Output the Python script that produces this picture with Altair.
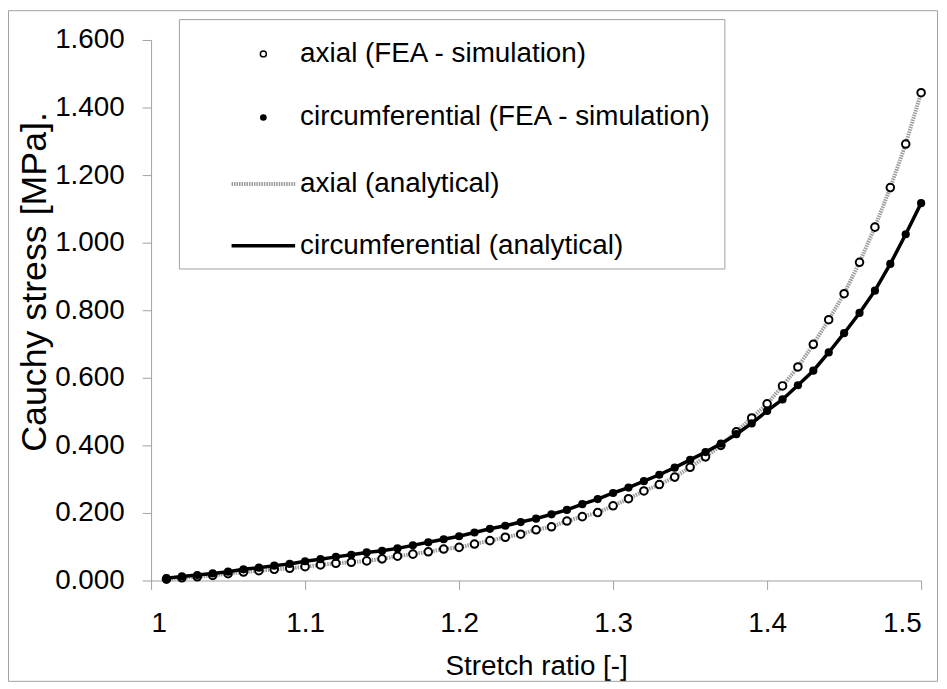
import altair as alt
import pandas as pd

stretch = [1.01, 1.02, 1.03, 1.04, 1.05, 1.06, 1.07, 1.08, 1.09, 1.10,
           1.11, 1.12, 1.13, 1.14, 1.15, 1.16, 1.17, 1.18, 1.19, 1.20,
           1.21, 1.22, 1.23, 1.24, 1.25, 1.26, 1.27, 1.28, 1.29, 1.30,
           1.31, 1.32, 1.33, 1.34, 1.35, 1.36, 1.37, 1.38, 1.39, 1.40,
           1.41, 1.42, 1.43, 1.44, 1.45, 1.46, 1.47, 1.48, 1.49, 1.50]

axial_fea = [0.004, 0.008, 0.011, 0.015, 0.020, 0.025, 0.029, 0.033, 0.036, 0.041,
             0.046, 0.051, 0.054, 0.058, 0.064, 0.072, 0.078, 0.085, 0.093, 0.098,
             0.108, 0.118, 0.128, 0.137, 0.150, 0.159, 0.176, 0.189, 0.201, 0.221,
             0.242, 0.265, 0.284, 0.306, 0.335, 0.366, 0.400, 0.440, 0.481, 0.523,
             0.576, 0.632, 0.699, 0.772, 0.849, 0.942, 1.046, 1.163, 1.292, 1.444]

circ_fea = [0.007, 0.012, 0.016, 0.021, 0.026, 0.033, 0.038, 0.044, 0.049, 0.057,
            0.063, 0.070, 0.076, 0.083, 0.088, 0.095, 0.104, 0.113, 0.122, 0.131,
            0.142, 0.153, 0.162, 0.173, 0.183, 0.196, 0.209, 0.226, 0.241, 0.259,
            0.275, 0.294, 0.313, 0.334, 0.357, 0.380, 0.405, 0.433, 0.465, 0.502,
            0.536, 0.578, 0.621, 0.675, 0.732, 0.792, 0.858, 0.937, 1.025, 1.117]

axial_analytical = [0.004, 0.008, 0.011, 0.015, 0.020, 0.025, 0.029, 0.033, 0.036, 0.041,
                    0.046, 0.051, 0.054, 0.058, 0.064, 0.072, 0.078, 0.085, 0.093, 0.098,
                    0.108, 0.118, 0.128, 0.137, 0.150, 0.159, 0.176, 0.189, 0.201, 0.221,
                    0.242, 0.265, 0.284, 0.306, 0.335, 0.366, 0.400, 0.440, 0.481, 0.523,
                    0.576, 0.632, 0.699, 0.772, 0.849, 0.942, 1.046, 1.163, 1.292, 1.444]

circ_analytical = [0.007, 0.012, 0.016, 0.021, 0.026, 0.033, 0.038, 0.044, 0.049, 0.057,
                   0.063, 0.070, 0.076, 0.083, 0.088, 0.095, 0.104, 0.113, 0.122, 0.131,
                   0.142, 0.153, 0.162, 0.173, 0.183, 0.196, 0.209, 0.226, 0.241, 0.259,
                   0.275, 0.294, 0.313, 0.334, 0.357, 0.380, 0.405, 0.433, 0.465, 0.502,
                   0.536, 0.578, 0.621, 0.675, 0.732, 0.792, 0.858, 0.937, 1.025, 1.117]

x_ticks = [1.0, 1.1, 1.2, 1.3, 1.4, 1.5]
y_ticks = [0.0, 0.2, 0.4, 0.6, 0.8, 1.0, 1.2, 1.4, 1.6]

legend_labels = ["axial (FEA - simulation)",
                 "circumferential (FEA - simulation)",
                 "axial (analytical)",
                 "circumferential (analytical)"]

FONT = "Liberation Sans"
W, H = 775, 544
PAD = {"left": 144, "top": 30, "right": 18, "bottom": 103}

df = pd.DataFrame({
    "x": stretch,
    "axial_fea": axial_fea,
    "circ_fea": circ_fea,
    "axial_an": axial_analytical,
    "circ_an": circ_analytical,
})

xs = alt.X("x:Q", title="Stretch ratio [-]",
           scale=alt.Scale(domain=[1.0, 1.5], nice=False, zero=False),
           axis=alt.Axis(values=x_ticks, format=".1~f", titlePadding=16,
                         titleFontSize=28))
ys = alt.Y("axial_an:Q", title="Cauchy stress [MPa].",
           scale=alt.Scale(domain=[0, 1.6], nice=False),
           axis=alt.Axis(values=y_ticks, format=".3f", titleFontSize=36,
                         titleAngle=270, titleBaseline="bottom",
                         titleX=-98, titleY=243))

base = alt.Chart(df)

axial_line = base.mark_line(color="#9c9c9c", strokeWidth=4, strokeDash=[1.5, 1]).encode(
    x=xs, y=ys)
axial_pts = base.mark_point(shape="circle", filled=True, fill="white", stroke="black",
                            strokeWidth=2, size=58, opacity=1).encode(
    x="x:Q", y="axial_fea:Q")
circ_line = base.mark_line(color="black", strokeWidth=3.5).encode(
    x="x:Q", y="circ_an:Q")
circ_pts = base.mark_point(shape="circle", filled=True, color="black", size=68,
                           opacity=1).encode(x="x:Q", y="circ_fea:Q")

one = pd.DataFrame({"k": [0]})

frame = alt.Chart(one).mark_rect(fill=None, stroke="#a0a0a0", strokeWidth=1).encode(
    x=alt.value(-143.5), x2=alt.value(W + PAD["right"] - 1.5),
    y=alt.value(-29.5), y2=alt.value(H + PAD["bottom"] - 1.5))

legend_box = alt.Chart(one).mark_rect(fill="white", stroke="#a0a0a0", strokeWidth=1).encode(
    x=alt.value(28.5), x2=alt.value(577.5), y=alt.value(-20.5), y2=alt.value(230.5))

rows_y = [14, 78, 145, 207]
leg_layers = [legend_box]
leg_layers.append(alt.Chart(one).mark_point(shape="circle", filled=True, fill="white",
                                            stroke="black", strokeWidth=1.5, size=36,
                                            opacity=1).encode(
    x=alt.value(113), y=alt.value(rows_y[0])))
leg_layers.append(alt.Chart(one).mark_point(shape="circle", filled=True, color="black",
                                            size=45, opacity=1).encode(
    x=alt.value(113), y=alt.value(rows_y[1])))
leg_layers.append(alt.Chart(one).mark_rule(color="#9c9c9c", strokeWidth=4,
                                           strokeDash=[1.5, 1]).encode(
    x=alt.value(81), x2=alt.value(145), y=alt.value(rows_y[2])))
leg_layers.append(alt.Chart(one).mark_rule(color="black", strokeWidth=3.5).encode(
    x=alt.value(81), x2=alt.value(145), y=alt.value(rows_y[3])))
for lab, ry in zip(legend_labels, rows_y):
    leg_layers.append(alt.Chart(one).mark_text(text=lab, align="left", baseline="middle",
                                               font=FONT, fontSize=28, color="black").encode(
        x=alt.value(150), y=alt.value(ry)))

chart = alt.layer(frame, axial_line, axial_pts, circ_line, circ_pts, *leg_layers).properties(
    width=W, height=H,
    autosize=alt.AutoSizeParams(type="none"),
    padding=PAD,
).configure_view(stroke=None).configure_axis(
    labelFont=FONT, titleFont=FONT, labelFontSize=28, titleFontSize=28,
    labelColor="black", titleColor="black", titleFontWeight="normal",
    domainColor="#a0a0a0", tickColor="#a0a0a0", tickSize=9, grid=False,
    labelPadding=6,
).configure_axisY(labelPadding=18).configure_axisX(labelPadding=20)

chart.save("out.html", embed_options={"renderer": "svg", "actions": False})
